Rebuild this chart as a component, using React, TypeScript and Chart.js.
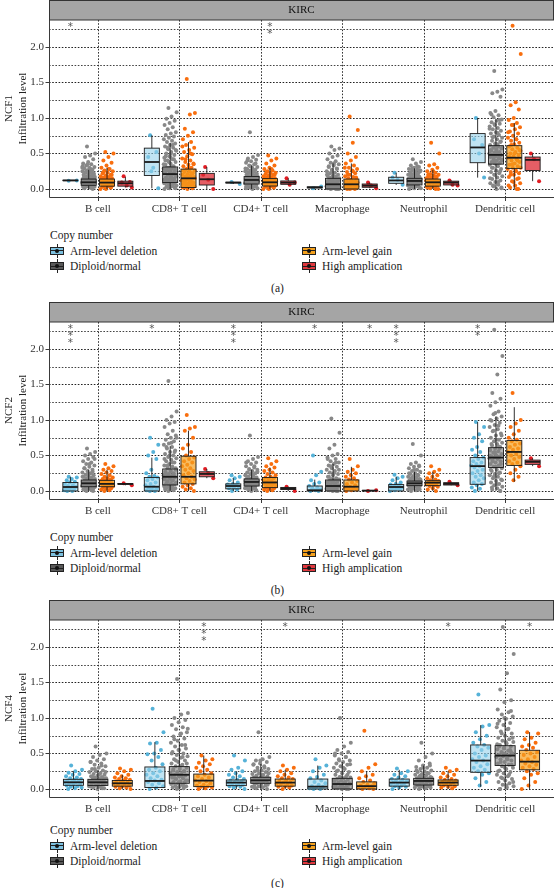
import React, { useEffect, useRef } from 'react';
import { Chart, registerables } from 'chart.js';
Chart.register(...registerables);

const FONT = '"Liberation Serif", "Times New Roman", serif';

const CELLS = ['B cell', 'CD8+ T cell', 'CD4+ T cell', 'Macrophage', 'Neutrophil', 'Dendritic cell'];
const GROUPS = ['Arm-level deletion', 'Diploid/normal', 'Arm-level gain', 'High amplication'];
const Y_TICKS = [0, 0.5, 1, 1.5, 2];
const Y_GRID = [0, 0.25, 0.5, 0.75, 1, 1.25, 1.5, 1.75, 2, 2.25];
const SIG_LEVEL = 2.31;

// box stats per cell: [lower whisker, Q1, median, Q3, upper whisker]
const NCF1_DEL_BOX = [[0.12, 0.118, 0.12, 0.123, 0.125], [0.01, 0.19, 0.38, 0.575, 0.755], [0.07, 0.085, 0.09, 0.095, 0.1], [0.01, 0.015, 0.022, 0.03, 0.035], [0.057, 0.08, 0.12, 0.165, 0.23], [0.16, 0.37, 0.585, 0.78, 1.0]];
const NCF1_DIP_BOX = [[0, 0.052, 0.094, 0.14, 0.27], [0, 0.09, 0.21, 0.31, 0.65], [0, 0.07, 0.127, 0.175, 0.33], [0, 0.0, 0.066, 0.15, 0.36], [0, 0.057, 0.113, 0.15, 0.29], [0, 0.35, 0.48, 0.61, 0.98]];
const NCF1_GAIN_BOX = [[0, 0.04, 0.09, 0.14, 0.3], [0, 0.02, 0.15, 0.28, 0.66], [0, 0.042, 0.094, 0.146, 0.3], [0, 0, 0.066, 0.14, 0.36], [0, 0.04, 0.094, 0.14, 0.27], [0, 0.29, 0.44, 0.61, 0.93]];
const NCF1_HIGH_BOX = [[0.02, 0.04, 0.08, 0.11, 0.17], [0.0, 0.056, 0.137, 0.22, 0.31], [0.06, 0.066, 0.09, 0.113, 0.15], [0.01, 0.024, 0.047, 0.07, 0.09], [0.05, 0.057, 0.09, 0.11, 0.12], [0.11, 0.26, 0.41, 0.45, 0.5]];

const NCF1_DEL_PTS = [
  [0.115, 0.12],
  [0.755, 0.01, 0.3, 0.45, 0.52, 0.25],
  [0.1, 0.07],
  [0.01, 0.035],
  [0.23, 0.06, 0.13, 0.16],
  [1.0, 0.16, 0.5, 0.7, 0.62],
];
const NCF1_DIP_PTS = [
  [0.6, 0.5, 0.47, 0.45, 0.42, 0.38, 0.36, 0.35, 0.33, 0.31, 0.3, 0.29, 0.27, 0.26, 0.25, 0.24, 0.23, 0.22, 0.21, 0.2, 0.19, 0.18, 0.17, 0.16, 0.16, 0.15, 0.14, 0.14, 0.13, 0.12, 0.12, 0.11, 0.1, 0.1, 0.09, 0.09, 0.08, 0.08, 0.07, 0.06, 0.06, 0.05, 0.04, 0.03, 0.02, 0.01, 0.0,
    0.35, 0.32, 0.28, 0.24, 0.2, 0.17, 0.15, 0.13, 0.11, 0.1, 0.09, 0.07, 0.05, 0.04, 0.03, 0.02, 0.12, 0.14, 0.16, 0.18, 0.22, 0.26, 0.3],
  [1.14, 1.08, 1.02, 0.99, 0.96, 0.93, 0.9, 0.87, 0.84, 0.8, 0.78, 0.76, 0.74, 0.72, 0.7, 0.68, 0.66, 0.64, 0.62, 0.6, 0.58, 0.56, 0.54, 0.52, 0.5, 0.48, 0.46, 0.44, 0.42, 0.4, 0.38, 0.36, 0.34, 0.32, 0.3, 0.29, 0.28, 0.26, 0.25, 0.24, 0.22, 0.21, 0.2, 0.19, 0.18, 0.16, 0.15, 0.14, 0.13, 0.12, 0.11, 0.1, 0.09, 0.08, 0.07, 0.06, 0.05, 0.04, 0.03, 0.02, 0.01, 0.0,
    0.62, 0.58, 0.55, 0.5, 0.46, 0.42, 0.38, 0.35, 0.32, 0.3, 0.28, 0.26, 0.24, 0.22, 0.2, 0.18, 0.16, 0.14, 0.12, 0.1, 0.08, 0.05, 0.03, 0.01, 0.45, 0.4],
  [0.8, 0.48, 0.45, 0.43, 0.41, 0.39, 0.37, 0.35, 0.33, 0.31, 0.3, 0.28, 0.27, 0.26, 0.25, 0.24, 0.23, 0.22, 0.21, 0.2, 0.19, 0.18, 0.17, 0.16, 0.16, 0.15, 0.14, 0.14, 0.13, 0.12, 0.12, 0.11, 0.1, 0.1, 0.09, 0.08, 0.08, 0.07, 0.06, 0.05, 0.04, 0.03, 0.02, 0.01, 0.0,
    0.4, 0.36, 0.32, 0.29, 0.26, 0.23, 0.2, 0.18, 0.16, 0.15, 0.13, 0.11, 0.09, 0.07, 0.05, 0.03, 0.01, 0.12, 0.14, 0.17, 0.22],
  [0.6, 0.57, 0.55, 0.5, 0.47, 0.45, 0.42, 0.39, 0.37, 0.35, 0.33, 0.31, 0.29, 0.27, 0.25, 0.23, 0.22, 0.2, 0.19, 0.18, 0.17, 0.16, 0.15, 0.14, 0.13, 0.12, 0.11, 0.1, 0.09, 0.08, 0.07, 0.06, 0.06, 0.05, 0.04, 0.04, 0.03, 0.02, 0.02, 0.01, 0.01, 0.0, 0.0, 0.0,
    0.36, 0.32, 0.28, 0.24, 0.2, 0.17, 0.14, 0.12, 0.1, 0.08, 0.06, 0.05, 0.03, 0.02, 0.01, 0.0, 0.15, 0.11, 0.09],
  [0.42, 0.38, 0.36, 0.33, 0.31, 0.3, 0.28, 0.27, 0.26, 0.25, 0.24, 0.23, 0.22, 0.21, 0.2, 0.19, 0.18, 0.17, 0.16, 0.15, 0.15, 0.14, 0.14, 0.13, 0.12, 0.12, 0.11, 0.11, 0.1, 0.1, 0.09, 0.08, 0.08, 0.07, 0.06, 0.05, 0.04, 0.03, 0.02, 0.01, 0.0,
    0.32, 0.29, 0.26, 0.23, 0.2, 0.18, 0.16, 0.14, 0.12, 0.11, 0.1, 0.09, 0.07, 0.05, 0.03, 0.01, 0.13, 0.15, 0.17],
  [1.66, 1.4, 1.37, 1.35, 1.3, 1.1, 1.07, 1.04, 1.01, 0.98, 0.96, 0.94, 0.92, 0.9, 0.88, 0.86, 0.84, 0.82, 0.8, 0.78, 0.76, 0.74, 0.72, 0.7, 0.68, 0.66, 0.64, 0.62, 0.6, 0.58, 0.57, 0.56, 0.54, 0.52, 0.51, 0.5, 0.49, 0.48, 0.47, 0.46, 0.45, 0.44, 0.42, 0.41, 0.4, 0.38, 0.37, 0.36, 0.34, 0.32, 0.3, 0.28, 0.26, 0.24, 0.22, 0.2, 0.18, 0.16, 0.14, 0.12, 0.1, 0.08, 0.06, 0.04, 0.02, 0.0,
    1.05, 0.97, 0.91, 0.85, 0.79, 0.73, 0.67, 0.61, 0.55, 0.5, 0.45, 0.4, 0.35, 0.3, 0.25, 0.2, 0.15, 0.1, 0.05, 0.01, 0.53, 0.48, 0.43, 0.38, 0.58, 0.63],
];
const NCF1_GAIN_PTS = [
  [0.52, 0.5, 0.45, 0.4, 0.37, 0.33, 0.3, 0.28, 0.26, 0.25, 0.23, 0.22, 0.2, 0.19, 0.18, 0.17, 0.16, 0.15, 0.14, 0.13, 0.13, 0.12, 0.11, 0.1, 0.1, 0.09, 0.08, 0.08, 0.07, 0.06, 0.05, 0.04, 0.03, 0.02, 0.01, 0.0,
    0.28, 0.24, 0.2, 0.17, 0.15, 0.12, 0.1, 0.08, 0.06, 0.04, 0.02, 0.0, 0.13, 0.11],
  [1.55, 1.07, 1.05, 0.85, 0.8, 0.75, 0.7, 0.66, 0.62, 0.58, 0.55, 0.52, 0.49, 0.46, 0.43, 0.4, 0.38, 0.36, 0.34, 0.32, 0.3, 0.28, 0.26, 0.25, 0.24, 0.22, 0.21, 0.2, 0.19, 0.18, 0.17, 0.16, 0.15, 0.14, 0.13, 0.12, 0.11, 0.1, 0.09, 0.08, 0.07, 0.06, 0.05, 0.04, 0.03, 0.02, 0.01, 0.0,
    0.6, 0.5, 0.42, 0.35, 0.3, 0.26, 0.22, 0.18, 0.15, 0.12, 0.1, 0.08, 0.05, 0.02],
  [0.47, 0.43, 0.4, 0.36, 0.33, 0.3, 0.28, 0.26, 0.25, 0.23, 0.22, 0.21, 0.2, 0.19, 0.18, 0.17, 0.16, 0.15, 0.14, 0.13, 0.12, 0.12, 0.11, 0.1, 0.1, 0.09, 0.08, 0.08, 0.07, 0.06, 0.05, 0.04, 0.03, 0.02, 0.01, 0.0,
    0.28, 0.24, 0.2, 0.17, 0.14, 0.12, 0.1, 0.08, 0.06, 0.04, 0.02, 0.0, 0.11, 0.13],
  [1.02, 0.83, 0.65, 0.5, 0.45, 0.4, 0.36, 0.33, 0.3, 0.28, 0.26, 0.24, 0.22, 0.2, 0.18, 0.17, 0.15, 0.14, 0.13, 0.12, 0.11, 0.1, 0.09, 0.08, 0.07, 0.06, 0.05, 0.04, 0.03, 0.02, 0.02, 0.01, 0.01, 0.0, 0.0,
    0.3, 0.25, 0.2, 0.16, 0.12, 0.1, 0.08, 0.06, 0.04, 0.02, 0.0],
  [0.65, 0.5, 0.35, 0.33, 0.3, 0.27, 0.25, 0.23, 0.21, 0.2, 0.19, 0.18, 0.17, 0.16, 0.15, 0.14, 0.13, 0.12, 0.11, 0.1, 0.1, 0.09, 0.08, 0.07, 0.06, 0.05, 0.04, 0.03, 0.02, 0.01, 0.0,
    0.25, 0.2, 0.17, 0.14, 0.12, 0.1, 0.08, 0.06, 0.04, 0.02, 0.0],
  [2.3, 1.9, 1.22, 1.18, 1.12, 1.0, 0.97, 0.93, 0.9, 0.87, 0.84, 0.81, 0.78, 0.75, 0.72, 0.7, 0.68, 0.65, 0.63, 0.6, 0.58, 0.56, 0.54, 0.52, 0.5, 0.48, 0.46, 0.44, 0.42, 0.4, 0.38, 0.36, 0.34, 0.32, 0.3, 0.28, 0.26, 0.24, 0.22, 0.2, 0.17, 0.14, 0.11, 0.08, 0.05, 0.02, 0.0,
    0.9, 0.8, 0.7, 0.62, 0.55, 0.5, 0.45, 0.4, 0.35, 0.3, 0.25, 0.2, 0.15, 0.1, 0.05, 0.0],
];
const NCF1_HIGH_PTS = [
  [0.18, 0.02, 0.05, 0.09, 0.1],
  [0.31, 0.0, 0.13, 0.2],
  [0.15, 0.09, 0.06],
  [0.09, 0.01, 0.05],
  [0.12, 0.05, 0.06],
  [0.5, 0.11, 0.42],
];

const NCF2_DEL_BOX = [[0, 0, 0.056, 0.12, 0.2], [0, 0, 0.06, 0.19, 0.47], [0, 0.03, 0.07, 0.1, 0.18], [0, 0, 0.01, 0.07, 0.16], [0, 0, 0.056, 0.09, 0.2], [0, 0.094, 0.35, 0.47, 0.97]];
const NCF2_DIP_BOX = [[0, 0.06, 0.108, 0.155, 0.3], [0, 0.085, 0.2, 0.31, 0.63], [0, 0.07, 0.127, 0.17, 0.3], [0, 0, 0.07, 0.155, 0.38], [0, 0.075, 0.108, 0.14, 0.27], [0, 0.33, 0.47, 0.61, 1.05]];
const NCF2_GAIN_BOX = [[0, 0.06, 0.1, 0.15, 0.3], [0, 0.1, 0.2, 0.49, 0.85], [0, 0.047, 0.12, 0.19, 0.33], [0, 0, 0.06, 0.155, 0.34], [0, 0.075, 0.117, 0.145, 0.27], [0.13, 0.36, 0.55, 0.71, 1.18]];
const NCF2_HIGH_BOX = [[0.08, 0.095, 0.1, 0.105, 0.11], [0.18, 0.2, 0.24, 0.27, 0.31], [0.0, 0.02, 0.035, 0.05, 0.06], [0, 0.003, 0.005, 0.008, 0.01], [0.08, 0.084, 0.1, 0.117, 0.13], [0.35, 0.375, 0.41, 0.435, 0.46]];

const NCF2_DEL_PTS = [
  [0.2, 0.19, 0.17, 0.15, 0.13, 0.12, 0.1, 0.08, 0.07, 0.06, 0.05, 0.04, 0.03, 0.02, 0.01, 0.0, 0.0],
  [0.75, 0.65, 0.55, 0.5, 0.45, 0.3, 0.25, 0.21, 0.2, 0.19, 0.17, 0.15, 0.12, 0.1, 0.08, 0.06, 0.05, 0.03, 0.02, 0.01, 0.0, 0.0],
  [0.22, 0.2, 0.18, 0.15, 0.12, 0.1, 0.09, 0.08, 0.07, 0.06, 0.05, 0.04, 0.02, 0.0],
  [0.5, 0.27, 0.22, 0.15, 0.12, 0.1, 0.07, 0.05, 0.04, 0.02, 0.01, 0.0, 0.0],
  [0.23, 0.2, 0.18, 0.15, 0.12, 0.1, 0.09, 0.08, 0.06, 0.05, 0.04, 0.03, 0.02, 0.01, 0.0],
  [0.97, 0.9, 0.8, 0.75, 0.7, 0.62, 0.58, 0.55, 0.5, 0.47, 0.45, 0.42, 0.4, 0.38, 0.36, 0.35, 0.33, 0.3, 0.28, 0.25, 0.22, 0.2, 0.18, 0.15, 0.12, 0.1, 0.08, 0.05, 0.03, 0.0],
];
const NCF2_DIP_PTS = [
  [0.6, 0.55, 0.52, 0.5, 0.48, 0.45, 0.42, 0.4, 0.38, 0.36, 0.34, 0.32, 0.3, 0.28, 0.26, 0.25, 0.23, 0.22, 0.21, 0.2, 0.19, 0.18, 0.17, 0.16, 0.15, 0.14, 0.13, 0.13, 0.12, 0.11, 0.11, 0.1, 0.1, 0.09, 0.08, 0.07, 0.06, 0.05, 0.04, 0.03, 0.02, 0.01, 0.0,
    0.45, 0.38, 0.32, 0.27, 0.24, 0.2, 0.17, 0.15, 0.13, 0.12, 0.1, 0.09, 0.08, 0.06, 0.04, 0.02, 0.0],
  [1.55, 1.12, 1.05, 1.0, 0.97, 0.95, 0.9, 0.85, 0.8, 0.78, 0.75, 0.72, 0.7, 0.67, 0.65, 0.62, 0.6, 0.57, 0.55, 0.52, 0.5, 0.48, 0.46, 0.44, 0.42, 0.4, 0.38, 0.36, 0.34, 0.32, 0.3, 0.28, 0.27, 0.25, 0.24, 0.22, 0.21, 0.2, 0.19, 0.18, 0.16, 0.15, 0.14, 0.12, 0.11, 0.1, 0.09, 0.08, 0.07, 0.06, 0.05, 0.04, 0.03, 0.02, 0.01, 0.0,
    0.75, 0.68, 0.62, 0.55, 0.5, 0.45, 0.4, 0.36, 0.32, 0.28, 0.25, 0.22, 0.2, 0.18, 0.15, 0.12, 0.1, 0.08, 0.05, 0.02],
  [0.78, 0.48, 0.45, 0.42, 0.4, 0.38, 0.35, 0.33, 0.31, 0.3, 0.28, 0.26, 0.25, 0.24, 0.22, 0.21, 0.2, 0.19, 0.18, 0.17, 0.16, 0.15, 0.14, 0.14, 0.13, 0.12, 0.12, 0.11, 0.1, 0.1, 0.09, 0.08, 0.07, 0.06, 0.05, 0.04, 0.03, 0.02, 0.01, 0.0,
    0.4, 0.35, 0.3, 0.27, 0.24, 0.2, 0.18, 0.16, 0.14, 0.13, 0.12, 0.1, 0.08, 0.06, 0.04, 0.02],
  [1.02, 0.82, 0.65, 0.6, 0.52, 0.5, 0.47, 0.45, 0.42, 0.4, 0.38, 0.36, 0.34, 0.32, 0.3, 0.28, 0.26, 0.24, 0.22, 0.2, 0.18, 0.17, 0.16, 0.15, 0.14, 0.13, 0.12, 0.11, 0.1, 0.09, 0.08, 0.07, 0.06, 0.05, 0.04, 0.03, 0.02, 0.01, 0.0, 0.0,
    0.45, 0.4, 0.35, 0.3, 0.25, 0.2, 0.17, 0.14, 0.12, 0.1, 0.08, 0.06, 0.04, 0.02, 0.0],
  [0.66, 0.5, 0.4, 0.38, 0.36, 0.34, 0.32, 0.3, 0.28, 0.27, 0.25, 0.24, 0.22, 0.21, 0.2, 0.19, 0.18, 0.17, 0.16, 0.15, 0.14, 0.13, 0.13, 0.12, 0.11, 0.11, 0.1, 0.1, 0.09, 0.08, 0.07, 0.06, 0.05, 0.04, 0.03, 0.02, 0.01, 0.0,
    0.35, 0.3, 0.25, 0.22, 0.19, 0.16, 0.14, 0.12, 0.11, 0.1, 0.08, 0.06, 0.04, 0.02],
  [2.27, 1.9, 1.64, 1.38, 1.3, 1.25, 1.2, 1.12, 1.08, 1.05, 1.02, 0.99, 0.96, 0.93, 0.9, 0.87, 0.84, 0.81, 0.78, 0.75, 0.72, 0.7, 0.68, 0.66, 0.64, 0.62, 0.6, 0.58, 0.56, 0.54, 0.52, 0.5, 0.49, 0.48, 0.47, 0.46, 0.45, 0.43, 0.42, 0.4, 0.38, 0.36, 0.34, 0.32, 0.3, 0.28, 0.26, 0.24, 0.22, 0.2, 0.18, 0.16, 0.14, 0.12, 0.1, 0.08, 0.06, 0.04, 0.02, 0.0,
    1.1, 1.0, 0.92, 0.85, 0.78, 0.72, 0.66, 0.6, 0.55, 0.5, 0.46, 0.42, 0.38, 0.34, 0.3, 0.25, 0.2, 0.15, 0.1, 0.05, 0.0, 0.53, 0.57, 0.63],
];
const NCF2_GAIN_PTS = [
  [0.38, 0.35, 0.32, 0.3, 0.28, 0.26, 0.24, 0.22, 0.2, 0.19, 0.18, 0.17, 0.16, 0.15, 0.14, 0.13, 0.12, 0.11, 0.1, 0.1, 0.09, 0.08, 0.07, 0.06, 0.05, 0.04, 0.03, 0.02, 0.01, 0.0],
  [1.07, 0.9, 0.88, 0.85, 0.75, 0.65, 0.6, 0.55, 0.5, 0.47, 0.45, 0.42, 0.4, 0.37, 0.35, 0.32, 0.3, 0.28, 0.25, 0.22, 0.2, 0.18, 0.16, 0.14, 0.12, 0.1, 0.08, 0.06, 0.04, 0.02, 0.0],
  [0.46, 0.42, 0.38, 0.35, 0.33, 0.3, 0.28, 0.26, 0.24, 0.22, 0.2, 0.19, 0.18, 0.16, 0.15, 0.14, 0.13, 0.12, 0.11, 0.1, 0.09, 0.08, 0.07, 0.06, 0.05, 0.04, 0.03, 0.02, 0.01, 0.0],
  [0.45, 0.35, 0.3, 0.27, 0.25, 0.22, 0.2, 0.18, 0.16, 0.14, 0.12, 0.1, 0.08, 0.06, 0.05, 0.04, 0.03, 0.02, 0.01, 0.0],
  [0.35, 0.3, 0.27, 0.25, 0.22, 0.2, 0.18, 0.16, 0.15, 0.14, 0.13, 0.12, 0.11, 0.1, 0.09, 0.08, 0.07, 0.06, 0.04, 0.02, 0.0],
  [1.38, 1.0, 0.95, 0.9, 0.85, 0.8, 0.75, 0.72, 0.7, 0.67, 0.65, 0.62, 0.6, 0.58, 0.55, 0.52, 0.5, 0.48, 0.45, 0.42, 0.4, 0.38, 0.35, 0.3, 0.25, 0.2, 0.15],
];
const NCF2_HIGH_PTS = [
  [0.11, 0.08],
  [0.31, 0.18, 0.25],
  [0.06, 0.0],
  [0.0, 0.01],
  [0.13, 0.08],
  [0.46, 0.35],
];

const NCF4_DEL_BOX = [[0, 0.052, 0.094, 0.136, 0.25], [0, 0.02, 0.113, 0.31, 0.66], [0, 0.047, 0.09, 0.127, 0.25], [0, 0, 0.033, 0.14, 0.33], [0, 0.04, 0.09, 0.14, 0.27], [0.03, 0.235, 0.4, 0.62, 0.9]];
const NCF4_DIP_BOX = [[0, 0.05, 0.094, 0.136, 0.26], [0, 0.08, 0.2, 0.315, 0.66], [0, 0.08, 0.122, 0.165, 0.35], [0, 0, 0.07, 0.15, 0.38], [0, 0.056, 0.113, 0.15, 0.33], [0, 0.33, 0.47, 0.61, 1.0]];
const NCF4_GAIN_BOX = [[0, 0.04, 0.08, 0.12, 0.2], [0, 0.033, 0.118, 0.21, 0.47], [0, 0.04, 0.09, 0.14, 0.27], [0, 0, 0.04, 0.1, 0.25], [0, 0.052, 0.09, 0.127, 0.25], [0.0, 0.27, 0.385, 0.545, 0.8]];

const NCF4_DEL_PTS = [
  [0.33, 0.27, 0.25, 0.23, 0.21, 0.2, 0.18, 0.16, 0.15, 0.14, 0.13, 0.12, 0.11, 0.1, 0.1, 0.09, 0.08, 0.07, 0.06, 0.05, 0.04, 0.03, 0.02, 0.01, 0.0],
  [1.13, 0.8, 0.65, 0.64, 0.55, 0.5, 0.49, 0.45, 0.4, 0.35, 0.3, 0.27, 0.25, 0.22, 0.2, 0.18, 0.15, 0.13, 0.12, 0.1, 0.08, 0.06, 0.04, 0.02, 0.0],
  [0.47, 0.4, 0.3, 0.27, 0.25, 0.22, 0.2, 0.18, 0.16, 0.14, 0.13, 0.12, 0.11, 0.1, 0.09, 0.08, 0.07, 0.06, 0.05, 0.04, 0.03, 0.02, 0.0],
  [0.42, 0.33, 0.3, 0.25, 0.2, 0.17, 0.15, 0.12, 0.1, 0.08, 0.06, 0.04, 0.03, 0.02, 0.01, 0.0, 0.0],
  [0.29, 0.25, 0.22, 0.2, 0.18, 0.16, 0.14, 0.13, 0.12, 0.11, 0.1, 0.09, 0.08, 0.07, 0.06, 0.05, 0.04, 0.03, 0.02, 0.0],
  [1.33, 0.9, 0.88, 0.8, 0.75, 0.7, 0.65, 0.62, 0.6, 0.58, 0.55, 0.5, 0.47, 0.45, 0.42, 0.4, 0.38, 0.35, 0.32, 0.3, 0.27, 0.25, 0.22, 0.2, 0.15, 0.1, 0.05],
];
const NCF4_DIP_PTS = [
  [0.6, 0.5, 0.48, 0.45, 0.42, 0.4, 0.38, 0.36, 0.34, 0.32, 0.3, 0.28, 0.26, 0.25, 0.24, 0.22, 0.21, 0.2, 0.19, 0.18, 0.17, 0.16, 0.15, 0.14, 0.13, 0.12, 0.12, 0.11, 0.1, 0.1, 0.09, 0.08, 0.07, 0.06, 0.05, 0.04, 0.03, 0.02, 0.01, 0.0,
    0.38, 0.33, 0.28, 0.24, 0.2, 0.17, 0.15, 0.13, 0.11, 0.1, 0.09, 0.07, 0.05, 0.03, 0.01],
  [1.55, 1.07, 1.05, 1.0, 0.97, 0.94, 0.9, 0.87, 0.84, 0.8, 0.77, 0.74, 0.71, 0.68, 0.65, 0.62, 0.6, 0.57, 0.55, 0.52, 0.5, 0.48, 0.46, 0.44, 0.42, 0.4, 0.38, 0.36, 0.34, 0.32, 0.3, 0.28, 0.26, 0.25, 0.24, 0.22, 0.21, 0.2, 0.19, 0.18, 0.16, 0.15, 0.14, 0.12, 0.11, 0.1, 0.09, 0.08, 0.07, 0.06, 0.05, 0.04, 0.03, 0.02, 0.01, 0.0,
    0.85, 0.78, 0.7, 0.62, 0.55, 0.5, 0.45, 0.4, 0.36, 0.32, 0.28, 0.25, 0.22, 0.2, 0.18, 0.15, 0.12, 0.1, 0.08, 0.05, 0.02],
  [0.8, 0.45, 0.42, 0.4, 0.38, 0.36, 0.34, 0.32, 0.3, 0.28, 0.26, 0.25, 0.24, 0.22, 0.21, 0.2, 0.19, 0.18, 0.17, 0.16, 0.15, 0.14, 0.14, 0.13, 0.12, 0.12, 0.11, 0.1, 0.1, 0.09, 0.08, 0.07, 0.06, 0.05, 0.04, 0.03, 0.02, 0.01, 0.0,
    0.4, 0.35, 0.3, 0.26, 0.22, 0.19, 0.16, 0.14, 0.13, 0.12, 0.1, 0.08, 0.06, 0.04, 0.02],
  [1.0, 0.65, 0.6, 0.55, 0.52, 0.5, 0.47, 0.45, 0.42, 0.4, 0.38, 0.36, 0.34, 0.32, 0.3, 0.28, 0.26, 0.24, 0.22, 0.2, 0.18, 0.17, 0.16, 0.15, 0.14, 0.13, 0.12, 0.11, 0.1, 0.09, 0.08, 0.07, 0.06, 0.05, 0.04, 0.03, 0.02, 0.01, 0.0, 0.0,
    0.5, 0.45, 0.4, 0.35, 0.3, 0.25, 0.2, 0.16, 0.13, 0.1, 0.08, 0.06, 0.04, 0.02, 0.0],
  [0.65, 0.5, 0.45, 0.4, 0.36, 0.33, 0.31, 0.3, 0.28, 0.26, 0.25, 0.24, 0.22, 0.21, 0.2, 0.19, 0.18, 0.17, 0.16, 0.15, 0.14, 0.14, 0.13, 0.12, 0.12, 0.11, 0.1, 0.1, 0.09, 0.08, 0.07, 0.06, 0.05, 0.04, 0.03, 0.02, 0.01, 0.0,
    0.33, 0.3, 0.26, 0.22, 0.19, 0.16, 0.14, 0.12, 0.11, 0.1, 0.08, 0.06, 0.04, 0.02],
  [2.28, 1.9, 1.63, 1.4, 1.25, 1.22, 1.12, 1.08, 1.05, 1.02, 0.99, 0.96, 0.93, 0.9, 0.87, 0.84, 0.81, 0.78, 0.75, 0.72, 0.7, 0.68, 0.66, 0.64, 0.62, 0.6, 0.58, 0.56, 0.54, 0.52, 0.5, 0.49, 0.48, 0.47, 0.46, 0.45, 0.43, 0.42, 0.4, 0.38, 0.36, 0.34, 0.32, 0.3, 0.28, 0.26, 0.24, 0.22, 0.2, 0.18, 0.16, 0.14, 0.12, 0.1, 0.08, 0.06, 0.04, 0.02, 0.0,
    1.1, 1.0, 0.92, 0.85, 0.78, 0.72, 0.66, 0.6, 0.55, 0.5, 0.46, 0.42, 0.38, 0.34, 0.3, 0.25, 0.2, 0.15, 0.1, 0.05, 0.0, 0.53, 0.57, 0.63],
];
const NCF4_GAIN_PTS = [
  [0.29, 0.27, 0.25, 0.22, 0.2, 0.18, 0.16, 0.15, 0.14, 0.13, 0.12, 0.11, 0.1, 0.09, 0.08, 0.07, 0.06, 0.05, 0.04, 0.03, 0.02, 0.01, 0.0],
  [0.47, 0.42, 0.4, 0.37, 0.35, 0.32, 0.3, 0.27, 0.25, 0.22, 0.2, 0.18, 0.16, 0.14, 0.12, 0.11, 0.1, 0.08, 0.06, 0.05, 0.04, 0.03, 0.02, 0.01, 0.0],
  [0.33, 0.3, 0.27, 0.25, 0.22, 0.2, 0.18, 0.16, 0.15, 0.14, 0.12, 0.11, 0.1, 0.09, 0.08, 0.07, 0.06, 0.05, 0.04, 0.03, 0.02, 0.0],
  [0.82, 0.35, 0.3, 0.25, 0.2, 0.18, 0.15, 0.12, 0.1, 0.08, 0.06, 0.05, 0.04, 0.03, 0.02, 0.01, 0.0, 0.0],
  [0.3, 0.27, 0.25, 0.22, 0.2, 0.18, 0.16, 0.14, 0.13, 0.12, 0.11, 0.1, 0.09, 0.08, 0.07, 0.06, 0.05, 0.04, 0.03, 0.02, 0.01],
  [0.8, 0.78, 0.72, 0.7, 0.65, 0.62, 0.6, 0.58, 0.55, 0.52, 0.5, 0.48, 0.45, 0.42, 0.4, 0.38, 0.36, 0.34, 0.32, 0.3, 0.28, 0.25, 0.22, 0.2, 0.15, 0.1, 0.05, 0.0],
];

// significance marks: [cell index, group index, number of stars]
const NCF1_SIG = [[0, 0, 1], [2, 2, 2]];
const NCF2_SIG = [[0, 0, 3], [1, 0, 1], [2, 0, 3], [3, 0, 1], [3, 3, 1], [4, 0, 3], [5, 0, 2]];
const NCF4_SIG = [[1, 2, 3], [2, 2, 1], [4, 2, 1], [5, 2, 1]];

const PT_COLORS = ['#56b2d8', '#888888', '#f86e0e', '#e01b22'];
const BOX_FILLS = ['rgba(150,210,235,0.6)', 'rgba(130,130,130,0.6)', 'rgba(245,160,30,0.7)', 'rgba(220,40,50,0.75)'];
const KEY_FILLS = ['#7cc0df', '#5a5a5a', '#f5a11c', '#e0383e'];

type PanelProps = {
  gene: string;
  boxes: (number[][] | null)[];
  pts: (number[][] | null)[];
  sig: number[][];
  caption: string;
  top: number;
  legendY: number;
};

function Key({ x, y, fill }: { x: number; y: number; fill: string }) {
  return (
    <div style={{ position: 'absolute', left: x, top: y - 7, width: 14, height: 14 }}>
      <div style={{ position: 'absolute', left: 6.5, top: 0, width: 1, height: 14, background: '#222' }} />
      <div style={{ position: 'absolute', left: 0, top: 3, width: 14, height: 8, boxSizing: 'border-box', border: '1px solid #222', background: fill }} />
      <div style={{ position: 'absolute', left: 0, top: 6.5, width: 14, height: 1.2, background: '#222' }} />
      <div style={{ position: 'absolute', left: 5, top: 5, width: 4, height: 4, borderRadius: 2, background: '#111' }} />
    </div>
  );
}

function Panel(p: PanelProps) {
  const ref = useRef<HTMLCanvasElement | null>(null);
  useEffect(() => {
    if (!ref.current) return;
    const present = [0, 1, 2, 3].filter((g) => p.boxes[g]);
    const n = present.length;
    const slot = 0.9 / n;
    const xOf = (c: number, k: number) => c + 1 + (k - (n - 1) / 2) * slot;
    const jit = (i: number) => ((i * 0.6180339887 + 0.37) % 1) * 2 - 1;
    const datasets = present.map((g, k) => ({
      label: GROUPS[g],
      data: (p.pts[g] as number[][]).flatMap((vals, c) =>
        vals.map((v, i) => ({ x: xOf(c, k) + jit(i) * slot * 0.36, y: v }))
      ),
      pointRadius: 2,
      pointBackgroundColor: PT_COLORS[g],
      pointBorderWidth: 0,
      showLine: false,
    }));

    const deco = {
      id: 'deco',
      beforeDatasetsDraw(chart: any) {
        const { ctx, chartArea: a, scales } = chart;
        const xs = scales.x, ys = scales.y;
        ctx.save();
        ctx.lineWidth = 1;
        ctx.setLineDash([1.6, 1.6]);
        Y_GRID.forEach((v) => {
          const py = Math.round(ys.getPixelForValue(v)) + 0.5;
          ctx.strokeStyle = v % 0.5 === 0 ? '#222' : '#444';
          ctx.beginPath();
          ctx.moveTo(a.left, py);
          ctx.lineTo(a.right, py);
          ctx.stroke();
        });
        ctx.strokeStyle = '#333';
        CELLS.forEach((_, c) => {
          const px = Math.round(xs.getPixelForValue(c + 1)) + 0.5;
          ctx.beginPath();
          ctx.moveTo(px, a.top);
          ctx.lineTo(px, a.bottom);
          ctx.stroke();
        });
        ctx.restore();
      },
      afterDatasetsDraw(chart: any) {
        const { ctx, scales } = chart;
        const xs = scales.x, ys = scales.y;
        ctx.save();
        present.forEach((g, k) => {
          (p.boxes[g] as number[][]).forEach((b, c) => {
            const xv = xOf(c, k);
            const cx = xs.getPixelForValue(xv);
            const hw = xs.getPixelForValue(xv + slot * 0.41) - cx;
            const [lo, q1, med, q3, hi] = b.map((v) => ys.getPixelForValue(v));
            ctx.strokeStyle = '#1a1a1a';
            ctx.lineWidth = 0.9;
            ctx.beginPath();
            ctx.moveTo(cx, hi);
            ctx.lineTo(cx, q3);
            ctx.moveTo(cx, q1);
            ctx.lineTo(cx, lo);
            ctx.stroke();
            ctx.fillStyle = BOX_FILLS[g];
            ctx.fillRect(cx - hw, q3, hw * 2, q1 - q3);
            ctx.strokeRect(cx - hw, q3, hw * 2, q1 - q3);
            ctx.lineWidth = 1.8;
            ctx.beginPath();
            ctx.moveTo(cx - hw, med);
            ctx.lineTo(cx + hw, med);
            ctx.stroke();
          });
        });
        ctx.restore();
      },
      afterDraw(chart: any) {
        const { ctx, chartArea: a, scales } = chart;
        const xs = scales.x, ys = scales.y;
        ctx.save();
        ctx.strokeStyle = '#3a3a3a';
        ctx.lineWidth = 1;
        ctx.setLineDash([]);
        ctx.beginPath();
        ctx.moveTo(a.left + 0.5, a.top);
        ctx.lineTo(a.left + 0.5, a.bottom + 0.5);
        ctx.lineTo(a.right, a.bottom + 0.5);
        ctx.stroke();
        ctx.beginPath();
        Y_TICKS.forEach((v) => {
          const py = Math.round(ys.getPixelForValue(v)) + 0.5;
          ctx.moveTo(a.left - 3.5, py);
          ctx.lineTo(a.left, py);
        });
        CELLS.forEach((_, c) => {
          const px = Math.round(xs.getPixelForValue(c + 1)) + 0.5;
          ctx.moveTo(px, a.bottom);
          ctx.lineTo(px, a.bottom + 4);
        });
        ctx.stroke();
        ctx.fillStyle = '#a5a5a5';
        ctx.fillRect(a.left, 0, a.right - a.left, a.top);
        ctx.strokeStyle = '#333';
        ctx.strokeRect(a.left + 0.5, 0.5, a.right - a.left - 1, a.top - 0.5);
        ctx.fillStyle = '#111';
        ctx.font = `11px ${FONT}`;
        ctx.textAlign = 'center';
        ctx.textBaseline = 'middle';
        ctx.fillText('KIRC', (a.left + a.right) / 2, a.top / 2 + 0.5);
        ctx.fillStyle = '#555';
        ctx.font = '10.5px "DejaVu Sans"';
        p.sig.forEach(([c, g, cnt]) => {
          const k = present.indexOf(g);
          const px = xs.getPixelForValue(xOf(c, k));
          const py0 = ys.getPixelForValue(SIG_LEVEL);
          for (let s = 0; s < cnt; s++) ctx.fillText('*', px, py0 + 2.5 + s * 6.7);
        });
        ctx.restore();
      },
    };

    const chart = new Chart(ref.current, {
      type: 'scatter',
      data: { datasets },
      options: {
        responsive: false,
        animation: false,
        events: [],
        layout: { padding: { top: 20, right: 1, left: 0, bottom: 0 } },
        plugins: { legend: { display: false }, tooltip: { enabled: false } },
        scales: {
          x: {
            type: 'linear',
            min: 0.4,
            max: 6.6,
            grid: { display: false, drawTicks: false },
            border: { display: false },
            afterBuildTicks: (s: any) => {
              s.ticks = CELLS.map((_, i) => ({ value: i + 1 }));
            },
            afterFit: (s: any) => {
              s.height = 25;
            },
            ticks: {
              autoSkip: false,
              maxRotation: 0,
              padding: 6,
              color: '#333',
              font: { family: FONT, size: 11 },
              callback: (v: any) => CELLS[Math.round(Number(v)) - 1],
            },
          },
          y: {
            type: 'linear',
            min: -0.113,
            max: 2.38,
            grid: { display: false, drawTicks: false },
            border: { display: false },
            afterBuildTicks: (s: any) => {
              s.ticks = Y_TICKS.map((v) => ({ value: v }));
            },
            afterFit: (s: any) => {
              s.width = 49;
            },
            ticks: {
              padding: 5,
              color: '#333',
              font: { family: FONT, size: 11 },
              callback: (v: any) => Number(v).toFixed(1),
            },
            title: {
              display: true,
              text: [p.gene, 'Infiltration level'],
              color: '#222',
              font: { family: FONT, size: 11 },
              padding: { top: 3, bottom: 0 },
            },
          },
        },
      },
      plugins: [deco],
    } as any);
    return () => chart.destroy();
  }, []);

  const ly = p.legendY;
  const textStyle: React.CSSProperties = { position: 'absolute', fontSize: 11.5, lineHeight: '14px', color: '#222', whiteSpace: 'nowrap' };
  const rows = [
    { g: 0, x: 50, y: ly + 15.5 },
    { g: 1, x: 50, y: ly + 31 },
    { g: 2, x: 302, y: ly + 15.5 },
    { g: 3, x: 302, y: ly + 31 },
  ];
  return (
    <div style={{ position: 'absolute', left: 0, top: p.top, width: 558, height: 296 }}>
      <canvas ref={ref} width={558} height={222} style={{ position: 'absolute', left: 0, top: 0, width: 558, height: 222 }} />
      <div style={{ ...textStyle, left: 50, top: ly - 7 }}>Copy number</div>
      {rows.map((r) => (
        <React.Fragment key={r.g}>
          <Key x={r.x} y={r.y} fill={KEY_FILLS[r.g]} />
          <div style={{ ...textStyle, left: r.x + 20, top: r.y - 7 }}>{GROUPS[r.g]}</div>
        </React.Fragment>
      ))}
      <div style={{ ...textStyle, left: 0, width: 555, textAlign: 'center', top: ly + 53 - 7 }}>{p.caption}</div>
    </div>
  );
}

export default function App() {
  return (
    <div style={{ position: 'absolute', left: 0, top: 0, width: 558, height: 888, background: '#fff', overflow: 'hidden', fontFamily: FONT }}>
      <Panel gene="NCF1" boxes={[NCF1_DEL_BOX, NCF1_DIP_BOX, NCF1_GAIN_BOX, NCF1_HIGH_BOX]} pts={[NCF1_DEL_PTS, NCF1_DIP_PTS, NCF1_GAIN_PTS, NCF1_HIGH_PTS]} sig={NCF1_SIG} caption="(a)" top={0} legendY={235} />
      <Panel gene="NCF2" boxes={[NCF2_DEL_BOX, NCF2_DIP_BOX, NCF2_GAIN_BOX, NCF2_HIGH_BOX]} pts={[NCF2_DEL_PTS, NCF2_DIP_PTS, NCF2_GAIN_PTS, NCF2_HIGH_PTS]} sig={NCF2_SIG} caption="(b)" top={302} legendY={235} />
      <Panel gene="NCF4" boxes={[NCF4_DEL_BOX, NCF4_DIP_BOX, NCF4_GAIN_BOX, null]} pts={[NCF4_DEL_PTS, NCF4_DIP_PTS, NCF4_GAIN_PTS, null]} sig={NCF4_SIG} caption="(c)" top={600} legendY={230} />
    </div>
  );
}
